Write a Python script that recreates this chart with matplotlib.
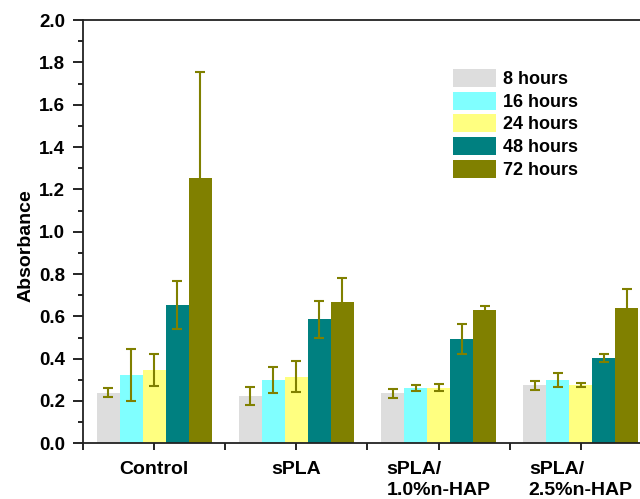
import numpy as np
from matplotlib import pyplot as plt

plt.rcParams['font.family'] = ['Liberation Sans', 'DejaVu Sans']
plt.rcParams['font.weight'] = 'bold'

# groups and series
categories = ['Control', 'sPLA', 'sPLA/\n1.0%n-HAP', 'sPLA/\n2.5%n-HAP']
series = ['8 hours', '16 hours', '24 hours', '48 hours', '72 hours']
colors = ['#dddddd', '#80ffff', '#ffff80', '#008080', '#808000']

# absorbance per series, one value per group
h8 = [0.240, 0.225, 0.236, 0.274]
h16 = [0.323, 0.298, 0.261, 0.299]
h24 = [0.347, 0.315, 0.263, 0.276]
h48 = [0.654, 0.586, 0.492, 0.402]
h72 = [1.253, 0.667, 0.629, 0.638]

e8 = [0.021, 0.043, 0.022, 0.022]
e16 = [0.125, 0.061, 0.014, 0.033]
e24 = [0.077, 0.073, 0.015, 0.010]
e48 = [0.112, 0.086, 0.070, 0.018]
e72 = [0.500, 0.113, 0.022, 0.090]

values = [h8, h16, h24, h48, h72]
errors = [e8, e16, e24, e48, e72]

fig = plt.figure(figsize=(6.4, 4.99), dpi=100)
ax = fig.add_axes([0.1297, 0.1116, 0.889, 0.848])

x = np.arange(1, len(categories) + 1)
w = 0.162
for i in range(len(series)):
    pos = x + (i - 2) * w
    ax.bar(pos, values[i], width=w, color=colors[i], label=series[i],
           edgecolor='none', zorder=2)
    ax.errorbar(pos, values[i], yerr=errors[i], fmt='none', ecolor='#808000',
                elinewidth=1.5, capsize=3.8, capthick=1.5, zorder=3)

ax.set_xlim(0.5, 4.5)
ax.set_ylim(0, 2.0)
ax.set_yticks(np.arange(0, 2.01, 0.2))
ax.set_yticklabels(['{:.1f}'.format(v) for v in np.arange(0, 2.01, 0.2)])
ax.set_yticks(np.arange(0.1, 2.0, 0.2), minor=True)
ax.set_xticks(x)
ax.set_xticklabels(categories, multialignment='left', linespacing=1.3)
ax.set_xticks(np.arange(0.5, 4.6, 1.0), minor=True)

ax.tick_params(axis='y', which='major', direction='out', length=7, width=1.2,
               labelsize=13.5, pad=6)
ax.tick_params(axis='y', which='minor', direction='out', length=3.5, width=1.2)
ax.tick_params(axis='x', which='major', direction='out', length=5, width=1.2,
               labelsize=14, pad=8)
ax.tick_params(axis='x', which='minor', direction='out', length=5, width=1.2)

for s in ['left', 'bottom', 'top']:
    ax.spines[s].set_linewidth(1.3)
    ax.spines[s].set_color('#222222')
ax.spines['right'].set_visible(False)

ax.set_ylabel('Absorbance', fontsize=14, fontweight='bold')
ax.yaxis.set_label_coords(-0.085, 0.468)

leg = ax.legend(loc='upper left', bbox_to_anchor=(453 / 640, 1 - 69 / 499),
                bbox_transform=fig.transFigure, frameon=False, borderpad=0,
                borderaxespad=0, prop={'size': 13, 'weight': 'bold'},
                handlelength=2.4, handleheight=1.15, labelspacing=0.2,
                handletextpad=0.35)

fig.savefig('out.png', dpi=100)
